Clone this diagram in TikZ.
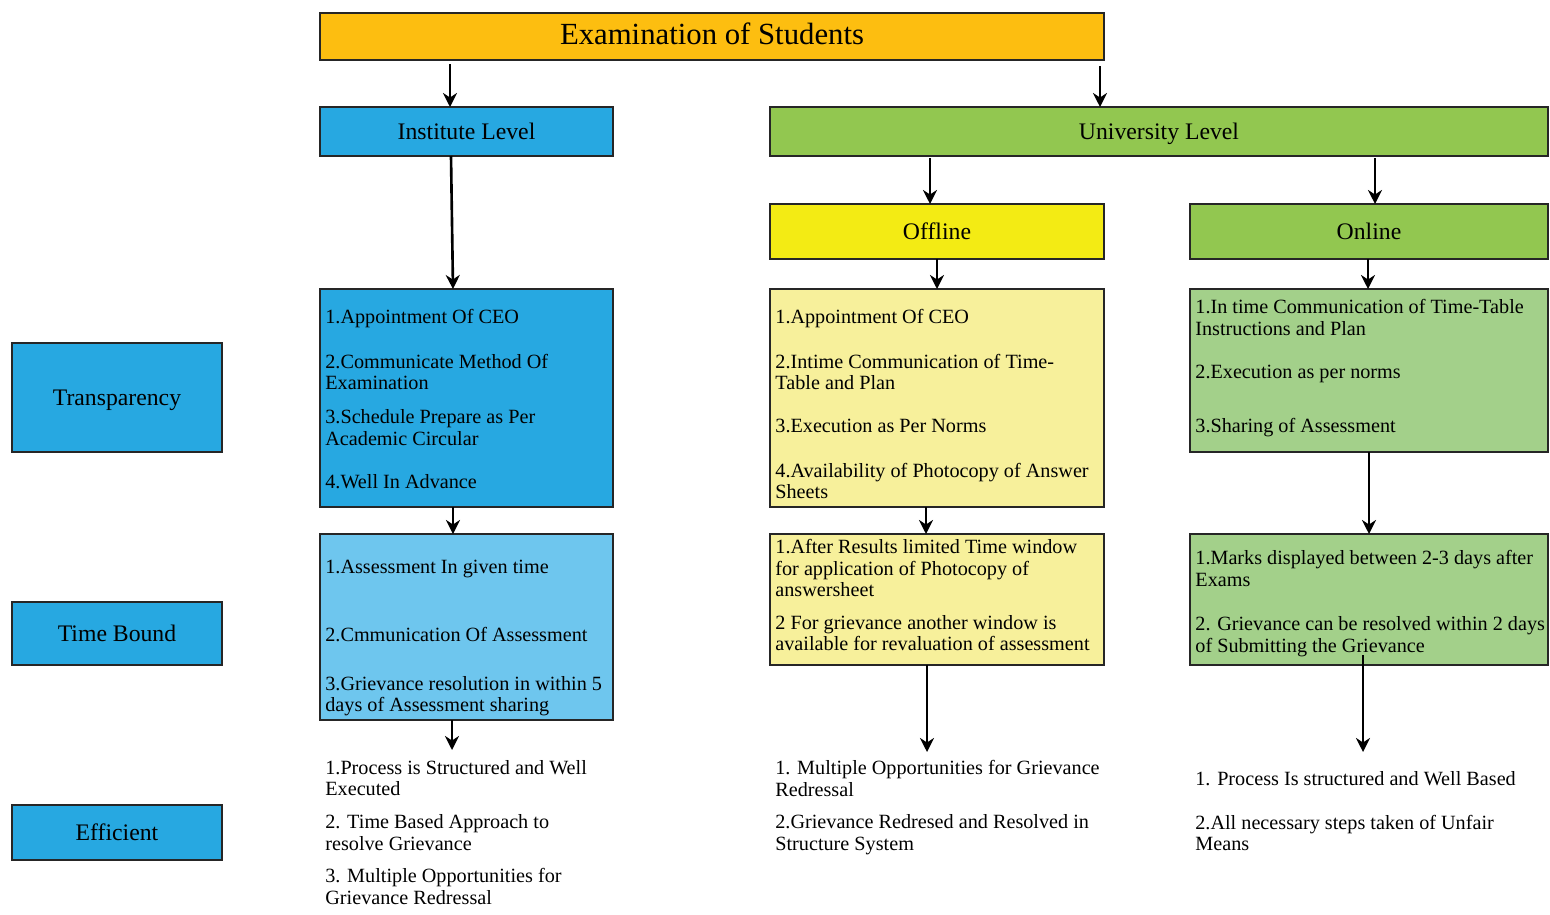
\documentclass[tikz,border=0pt]{standalone}
\usepackage{fontspec}
\setmainfont{Liberation Serif}
\usetikzlibrary{arrows.meta}

\definecolor{examorange}{RGB}{253,190,16}
\definecolor{instblue}{RGB}{39,168,225}
\definecolor{paleblue}{RGB}{110,198,238}
\definecolor{univgreen}{RGB}{146,199,80}
\definecolor{palegreen}{RGB}{163,208,138}
\definecolor{offyellow}{RGB}{243,235,20}
\definecolor{paleyellow}{RGB}{247,240,155}

\tikzset{
  box/.style={draw=black!85, line width=1.1pt, inner sep=0pt, outer sep=0pt},
  head/.style={box, font=\fontsize{13.5}{16}\selectfont, text height=1.1em, text depth=0.22em},
  items/.style={anchor=north west, inner sep=0pt, align=left, font=\fontsize{11.5}{12.2}\selectfont},
  arr/.style={-{Stealth[length=8pt,width=8pt]}, line width=1.5pt},
}

\begin{document}
\begin{tikzpicture}[x=0.02cm,y=-0.02cm]
    \useasboundingbox (0,0) rectangle (1550,914);

        % Top and levels
        \node[box, fill=examorange, minimum width=15.68cm, minimum height=0.94cm,
              font=\fontsize{17.5}{20}\selectfont, text height=1.15em, text depth=0.22em] (exam) at (712,36.5) {Examination of Students};
        \node[head, fill=instblue, minimum width=5.86cm, minimum height=0.98cm] (inst) at (466.5,131.5) {Institute Level};
        \node[head, fill=univgreen, minimum width=15.56cm, minimum height=0.98cm] (univ) at (1159,131.5) {University Level};
        \node[head, fill=offyellow, minimum width=6.68cm, minimum height=1.1cm] (offl) at (937,231.5) {Offline};
        \node[head, fill=univgreen, minimum width=7.16cm, minimum height=1.1cm] (onl) at (1369,231.5) {Online};

        % Labels on the left
        \node[head, fill=instblue, minimum width=4.2cm, minimum height=2.18cm] (transp) at (117,397.5) {Transparency};
        \node[head, fill=instblue, minimum width=4.2cm, minimum height=1.26cm] (timeb) at (117,633.5) {Time Bound};
        \node[head, fill=instblue, minimum width=4.2cm, minimum height=1.1cm] (effic) at (117,832.5) {Efficient};

        % Institute column
        \node[box, fill=instblue, minimum width=5.86cm, minimum height=4.36cm] (inst1) at (466.5,398) {};
        \node[items] (inst1t) at ([shift={(5,20)}]inst1.north west)
            {1.Appointment Of CEO\\[13.3pt]
             2.Communicate Method Of\\ Examination\\[7.1pt]
             3.Schedule Prepare as Per\\ Academic Circular\\[12.2pt]
             4.Well In Advance};
        \node[box, fill=paleblue, minimum width=5.86cm, minimum height=3.72cm] (inst2) at (466.5,627) {};
        \node[items] (inst2t) at ([shift={(5,26)}]inst2.north west)
            {1.Assessment In given time\\[26.4pt]
             2.Cmmunication Of Assessment\\[15.6pt]
             3.Grievance resolution in within 5\\ days of Assessment sharing};
        \node[items] (instE) at (325,760)
            {1.Process is Structured and Well\\ Executed\\[6.5pt]
             2. Time Based Approach to\\ resolve Grievance\\[6.5pt]
             3. Multiple Opportunities for\\ Grievance Redressal};

        % Offline column
        \node[box, fill=paleyellow, minimum width=6.68cm, minimum height=4.36cm] (off1) at (937,398) {};
        \node[items] (off1t) at ([shift={(5,20)}]off1.north west)
            {1.Appointment Of CEO\\[13.3pt]
             2.Intime Communication of Time-\\ Table and Plan\\[12.2pt]
             3.Execution as Per Norms\\[13.3pt]
             4.Availability of Photocopy of Answer\\ Sheets};
        \node[box, fill=paleyellow, minimum width=6.68cm, minimum height=2.62cm] (off2) at (937,599.5) {};
        \node[items] (off2t) at ([shift={(5,5)}]off2.north west)
            {1.After Results limited Time window\\ for application of Photocopy of\\ answersheet\\[6.5pt]
             2 For grievance another window is\\ available for revaluation of assessment};
        \node[items] (offE) at (775,760)
            {1. Multiple Opportunities for Grievance\\ Redressal\\[6.5pt]
             2.Grievance Redresed and Resolved in\\ Structure System};

        % Online column
        \node[box, fill=palegreen, minimum width=7.16cm, minimum height=3.26cm] (on1) at (1369,370.5) {};
        \node[items] (on1t) at ([shift={(5,10)}]on1.north west)
            {1.In time Communication of Time-Table\\ Instructions and Plan\\[12.8pt]
             2.Execution as per norms\\[18.4pt]
             3.Sharing of Assessment};
        \node[box, fill=palegreen, minimum width=7.16cm, minimum height=2.62cm] (on2) at (1369,599.5) {};
        \node[items] (on2t) at ([shift={(5,16)}]on2.north west)
            {1.Marks displayed between 2-3 days after\\ Exams\\[13.3pt]
             2. Grievance can be resolved within 2 days\\ of Submitting the Grievance};
        \node[items] (onE) at (1195,771)
            {1. Process Is structured and Well Based\\[12.8pt]
             2.All necessary steps taken of Unfair\\ Means};

        % Arrows
        \draw[arr] ([shift={(0,4)}]exam.south -| 450,0) -- (inst.north -| 450,0);
        \draw[arr] ([shift={(0,6)}]exam.south -| 1100,0) -- (univ.north -| 1100,0);
        \draw[arr] (inst.south -| 451,0) -- (inst1.north -| 453,0);
        \draw[arr] ([shift={(0,2)}]univ.south -| 930,0) -- (offl.north -| 930,0);
        \draw[arr] ([shift={(0,2)}]univ.south -| 1375,0) -- (onl.north -| 1375,0);
        \draw[arr] (offl.south) -- (off1.north);
        \draw[arr] (onl.south -| 1368,0) -- (on1.north -| 1368,0);
        \draw[arr] (inst1.south -| 453,0) -- (inst2.north -| 453,0);
        \draw[arr] (off1.south -| 926,0) -- (off2.north -| 926,0);
        \draw[arr] (on1.south) -- (on2.north);
        \draw[arr] (inst2.south -| 452,0) -- ([shift={(0,-10)}]instE.north -| 452,0);
        \draw[arr] (off2.south -| 927,0) -- ([shift={(0,-8)}]offE.north -| 927,0);
        \draw[arr] ([shift={(-6,-10)}]on2.south) -- ([shift={(0,-19)}]onE.north -| 1363,0);

\end{tikzpicture}
\end{document}
